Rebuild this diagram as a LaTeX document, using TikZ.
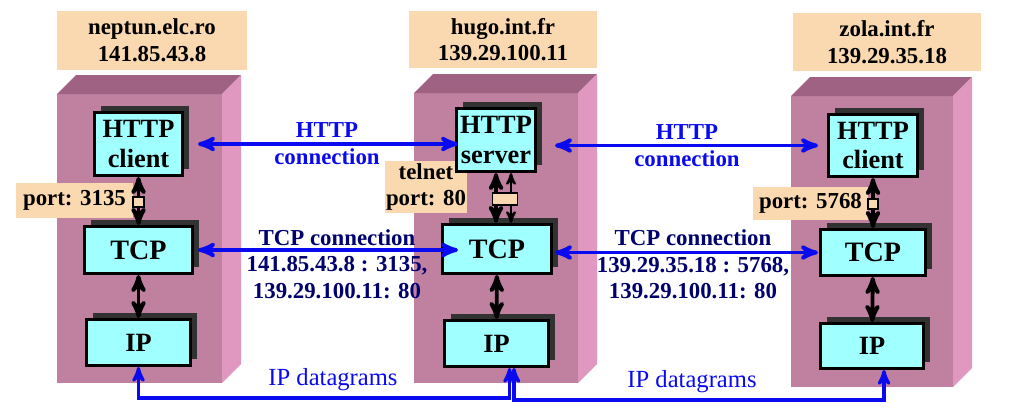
\documentclass[tikz,border=0pt]{standalone}
\usepackage{fontspec}
\setmainfont{Liberation Serif}
\usetikzlibrary{arrows,shadows,calc}

\definecolor{peach}{RGB}{250,216,176}
\definecolor{mauve}{RGB}{192,128,160}
\definecolor{mauvetop}{RGB}{160,98,130}
\definecolor{mauveside}{RGB}{224,152,192}
\definecolor{layercyan}{RGB}{160,255,255}
\definecolor{shade}{RGB}{50,50,50}
\definecolor{linkblue}{RGB}{10,10,240}
\definecolor{navy}{RGB}{0,0,110}

\begin{document}
\begin{tikzpicture}[x=0.02cm,y=-0.02cm]
            \tikzset{layer/.style = {draw, line width=1.7pt, fill=layercyan, align=center, inner sep=0pt,
                general shadow={fill=shade, shadow xshift=3.6pt, shadow yshift=3.6pt},
                font=\fontsize{15}{17}\selectfont\bfseries}}
            \tikzset{tag/.style = {fill=peach, align=center, inner sep=0pt, font=\fontsize{13}{15.2}\selectfont\bfseries}}
            \tikzset{plug/.style = {draw, fill=peach, line width=0.6pt, inner sep=0pt}}
            \tikzset{stack/.style = {<->, > = stealth', line width=2.2pt}}
            \tikzset{link/.style = {<->, > = stealth', line width=2.2pt, draw=linkblue}}
            \tikzset{dgram/.style = {<->, > = stealth', line width=1.8pt, draw=linkblue}}
            \tikzset{linktext/.style = {align=center, inner sep=0pt, text=linkblue, font=\fontsize{13}{15.3}\selectfont\bfseries}}
            \tikzset{addrtext/.style = {align=center, inner sep=0pt, text=navy, font=\fontsize{13}{15.1}\selectfont\bfseries}}

            \useasboundingbox (0,0) rectangle (1017,419);

            % towers
            \foreach \x/\y/\w/\h in {57/94/165/289, 414/93/164/290, 791/96/162/291} {
                \fill[mauve] (\x,\y) rectangle ++(\w,\h);
                \fill[mauvetop] (\x,\y) -- ++(19,-19) -- ++(\w,0) -- ++(-19,19) -- cycle;
                \fill[mauveside] (\x+\w,\y) -- ++(19,-19) -- ++(0,\h) -- ++(-19,19) -- cycle;
            }

            \node[tag, minimum width=3.8cm, minimum height=1.18cm] (h1) at (152,40.5) {neptun.elc.ro\\141.85.43.8};
            \node[tag, minimum width=3.76cm, minimum height=1.14cm] (h2) at (503,39.5) {hugo.int.fr\\139.29.100.11};
            \node[tag, minimum width=3.76cm, minimum height=1.16cm] (h3) at (887,42) {zola.int.fr\\139.29.35.18};

            \node[tag, minimum width=2.34cm, minimum height=0.7cm] (p1) at (74.5,200.5) {port: 3135};
            \node[tag, minimum width=1.64cm, minimum height=1.04cm] (p2) at (426,187) {telnet\\port: 80};
            \node[tag, minimum width=2.3cm, minimum height=0.66cm] (p3) at (810.5,203.5) {port: 5768};

            \node[layer, minimum width=1.76cm, minimum height=1.26cm] (c1) at (138.5,144) {HTTP\\client};
            \node[layer, minimum width=2.16cm, minimum height=0.94cm, font=\fontsize{16}{17}\selectfont\bfseries] (t1) at (138.5,250) {TCP};
            \node[layer, minimum width=2.08cm, minimum height=0.92cm] (i1) at (138.5,342.5) {IP};
            \node[layer, minimum width=1.58cm, minimum height=1.26cm] (s2) at (496,140) {HTTP\\server};
            \node[layer, minimum width=2.18cm, minimum height=0.98cm, font=\fontsize{16}{17}\selectfont\bfseries] (t2) at (497,249) {TCP};
            \node[layer, minimum width=2.08cm, minimum height=0.92cm] (i2) at (496.5,343.5) {IP};
            \node[layer, minimum width=1.78cm, minimum height=1.24cm] (c3) at (873,145.5) {HTTP\\client};
            \node[layer, minimum width=2.1cm, minimum height=0.92cm, font=\fontsize{16}{17}\selectfont\bfseries] (t3) at (873,252.5) {TCP};
            \node[layer, minimum width=2.06cm, minimum height=0.9cm] (i3) at (872,346) {IP};

            \draw[stack] (c1) to (t1);
            \draw[stack] (t1) to (i1);
            \draw[stack] (s2.south) to (s2.south |- t2.north);
            \draw[stack, line width=1.3pt] ($(s2.south)+(15,0)$) to ($(s2.south |- t2.north)+(15,0)$);
            \draw[stack] (t2) to (i2);
            \draw[stack] (c3) to (t3);
            \draw[stack] (t3) to (i3);

            \node[plug, minimum width=0.22cm, minimum height=0.2cm] (q1) at (138.5,202) {};
            \node[plug, minimum width=0.5cm, minimum height=0.24cm] (q2) at (505,199) {};
            \node[plug, minimum width=0.2cm, minimum height=0.2cm] (q3) at (873,204) {};

            \draw[link] ($(c1.east)+(14,0)$) to ($(c1.east -| s2.west)+(3,0)$);
            \draw[link] ($(s2.east |- c3.west)+(18,0)$) to ($(c3.west)+(-9,0)$);
            \draw[link] ($(t1.east)+(4,0)$) to ($(t1.east -| t2.west)+(17,0)$);
            \draw[link] ($(t2.east |- t3.west)+(2,0)$) to ($(t3.west)+(-1,0)$);

            \node[linktext] (l1) at (327,144) {HTTP\\connection};
            \node[linktext] (l2) at (687,145.5) {HTTP\\connection};
            \node[addrtext] (a1) at (337,264) {TCP connection\\141.85.43.8 : 3135,\\139.29.100.11: 80};
            \node[addrtext] (a2) at (693,264.5) {TCP connection\\139.29.35.18 : 5768,\\139.29.100.11: 80};

            \draw[dgram] (i1.south) -- ++(0,31) -| ($(i2.south)+(13,0)$);
            \draw[dgram] ($(i2.south)+(17.5,0)$) -- ++(0,32) -| ($(i3.south)+(12,0)$);

            \node[text=linkblue, font=\fontsize{14}{16}\selectfont] (d1) at (333,380) {IP datagrams};
            \node[text=linkblue, font=\fontsize{14}{16}\selectfont] (d2) at (692,382) {IP datagrams};
        \end{tikzpicture}
\end{document}
